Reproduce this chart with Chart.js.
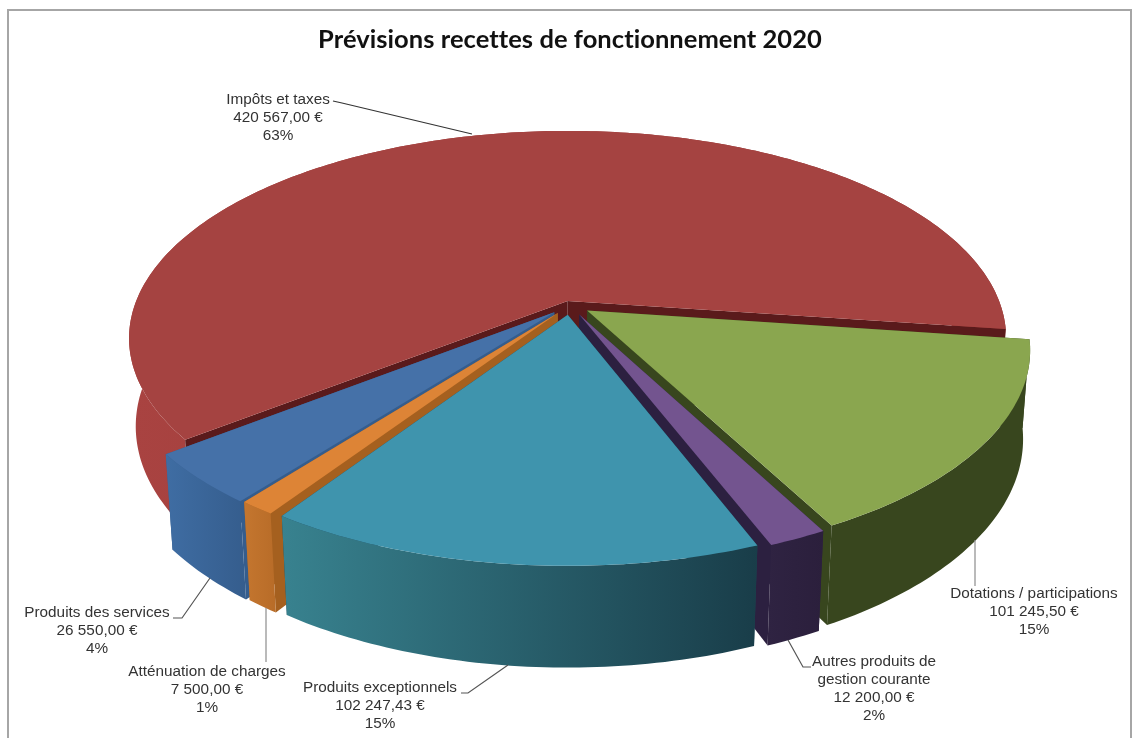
<!DOCTYPE html>
<html lang="fr">
<head>
<meta charset="utf-8">
<title>Prévisions recettes de fonctionnement 2020</title>
<script src="https://cdn.jsdelivr.net/npm/chart.js@4/dist/chart.umd.js"></script>
<style>
  html, body { margin: 0; padding: 0; background: #ffffff; overflow: hidden; }
  canvas { display: block; }
</style>
</head>
<body>
<canvas id="recettesChart" width="1133" height="738"></canvas>
<script>
// Budget lines, clockwise from the big slice
const categories = ['Impôts et taxes', 'Dotations / participations', 'Autres produits de\ngestion courante',
  'Produits exceptionnels', 'Atténuation de charges', 'Produits des services'];
const amounts = [420567.00, 101245.50, 12200.00, 102247.43, 7500.00, 26550.00];

// Slice colours: top face, cut faces, outer wall (left to right)
const topColors = ['#a54341', '#8aa64f', '#73548f', '#3f94ad', '#dd8436', '#4571a8'];
const cutColors = ['#5a1a1b', '#38461e', '#2c2040', '#1d4452', '#a5601f', '#355d8d'];
const wallColors = [['#a94341', '#8e3432'], ['#38461e', '#38461e'], ['#2f2342', '#2b1f3c'],
  ['#38828f', '#193d49'], ['#c4762f', '#b86c28'], ['#3f6da3', '#355d8d']];

// Explosion of each slice, in chart pixels
const sliceOffsets = [7, 16, 17, 16, 16, 17];

// Painter's order, back slices first
const drawOrder = [0, 1, 5, 4, 2, 3];

// Text anchors and leader lines for the data labels
const labelBoxes = [
  { x: 278, y: 100, line: [[333, 101], [342, 103], [472, 134]], stroke: '#333333' },
  { x: 1034, y: 594, line: [[975, 540], [975, 586]], stroke: '#8c8c8c' },
  { x: 874, y: 662, line: [[788, 640], [803, 667], [811, 667]], stroke: '#555555' },
  { x: 380, y: 688, line: [[461, 693], [468, 693], [508, 665]], stroke: '#555555' },
  { x: 207, y: 672, line: [[266, 608], [266, 662]], stroke: '#8c8c8c' },
  { x: 97, y: 613, line: [[173, 618], [182, 618], [210, 578]], stroke: '#555555' }
];

const pieTop = 305;      // vertical position of the pie centre
const spreadX = 433;     // half width of the disc
const spreadY = 202;     // half height of the disc
const tilt = 0.18;       // how much the front of the disc grows
const thickness = 88;    // height of the wall at the front
const thicknessFade = 0.015;

function formatEuro(v) {
  const parts = v.toFixed(2).split('.');
  return parts[0].replace(/\B(?=(\d{3})+$)/g, ' ') + ',' + parts[1] + ' €';
}

// Project a point of the unit disc (h = 0 top face, h = 1 bottom face)
function project(cx, u, v, h) {
  const w = 1 - tilt * v + thicknessFade * h;
  return { x: cx + spreadX * u / w, y: pieTop + (spreadY * v + thickness * h) / w };
}

function traceRim(ctx, pts, moveFirst) {
  pts.forEach((p, i) => {
    if (i === 0 && moveFirst) ctx.moveTo(p.x, p.y);
    else ctx.lineTo(p.x, p.y);
  });
}

function drawSlice(ctx, arc, i) {
  const mid = (arc.startAngle + arc.endAngle) / 2;
  const shift = arc.options.offset / arc.outerRadius;
  const ox = Math.cos(mid) * shift;
  const oy = Math.sin(mid) * shift;
  const rimAt = (h) => {
    const pts = [];
    const steps = Math.max(4, Math.ceil((arc.endAngle - arc.startAngle) * 60));
    for (let s = 0; s <= steps; s++) {
      const t = arc.startAngle + (arc.endAngle - arc.startAngle) * s / steps;
      pts.push(project(arc.x, Math.cos(t) + ox, Math.sin(t) + oy, h));
    }
    return pts;
  };
  const top = rimAt(0);
  const bottom = rimAt(1);
  const apexTop = project(arc.x, ox, oy, 0);
  const apexBottom = project(arc.x, ox, oy, 1);

  const drawCuts = () => {
    ctx.fillStyle = cutColors[i];
    [[top[0], bottom[0]], [top[top.length - 1], bottom[bottom.length - 1]]].forEach(([a, b]) => {
      ctx.beginPath();
      ctx.moveTo(apexTop.x, apexTop.y);
      ctx.lineTo(a.x, a.y);
      ctx.lineTo(b.x, b.y);
      ctx.lineTo(apexBottom.x, apexBottom.y);
      ctx.closePath();
      ctx.fill();
    });
  };

  const drawWall = () => {
    const xs = top.concat(bottom).map((p) => p.x);
    const grad = ctx.createLinearGradient(Math.min(...xs), 0, Math.max(...xs), 0);
    grad.addColorStop(0, wallColors[i][0]);
    grad.addColorStop(1, wallColors[i][1]);
    ctx.fillStyle = grad;
    ctx.beginPath();
    traceRim(ctx, top, true);
    traceRim(ctx, bottom.slice().reverse(), false);
    ctx.closePath();
    ctx.fill();
  };

  // a slice wider than a half turn shows both cuts in front of its wall,
  // on the narrow ones the wall has to hide the cut turned away
  if (arc.endAngle - arc.startAngle > Math.PI) {
    drawWall();
    drawCuts();
  } else {
    drawCuts();
    drawWall();
  }

  // top face
  ctx.fillStyle = arc.options.backgroundColor;
  ctx.beginPath();
  ctx.moveTo(apexTop.x, apexTop.y);
  traceRim(ctx, top, false);
  ctx.closePath();
  ctx.fill();
}

// Draws the arcs of the pie as a thick tilted disc
const tiltedPie = {
  id: 'tiltedPie',
  beforeDatasetDraw(chart, args) {
    const arcs = chart.getDatasetMeta(args.index).data;
    drawOrder.forEach((i) => drawSlice(chart.ctx, arcs[i], i));
    return false;
  }
};

const frameAndLabels = {
  id: 'frameAndLabels',
  beforeDraw(chart) {
    const ctx = chart.ctx;
    ctx.save();
    ctx.strokeStyle = '#a6a6a6';
    ctx.lineWidth = 2;
    ctx.strokeRect(8, 10, 1123, 800);
    ctx.restore();
    // small spacing keeps the title free of ligatures
    ctx.letterSpacing = '0.05px';
  },
  afterDraw(chart) {
    const ctx = chart.ctx;
    const total = amounts.reduce((a, b) => a + b, 0);
    ctx.save();
    ctx.letterSpacing = '0px';
    ctx.font = '15.3px "Liberation Sans", Arial, sans-serif';
    ctx.textAlign = 'center';
    ctx.textBaseline = 'middle';
    labelBoxes.forEach((box, i) => {
      ctx.strokeStyle = box.stroke;
      ctx.lineWidth = 1.2;
      ctx.beginPath();
      box.line.forEach(([x, y], k) => (k ? ctx.lineTo(x, y) : ctx.moveTo(x, y)));
      ctx.stroke();

      const lines = categories[i].split('\n');
      lines.push(formatEuro(amounts[i]));
      lines.push(Math.round(amounts[i] / total * 100) + '%');
      ctx.fillStyle = '#333333';
      lines.forEach((text, k) => ctx.fillText(text, box.x, box.y + k * 17.8));
    });
    ctx.restore();
  }
};

new Chart(document.getElementById('recettesChart').getContext('2d'), {
  type: 'pie',
  data: {
    labels: categories,
    datasets: [{
      data: amounts,
      backgroundColor: topColors,
      offset: sliceOffsets,
      borderWidth: 0
    }]
  },
  options: {
    responsive: false,
    animation: false,
    rotation: 232,
    layout: { padding: { left: 7 } },
    plugins: {
      legend: { display: false },
      tooltip: { enabled: false },
      title: {
        display: true,
        text: 'Prévisions recettes de fonctionnement 2020',
        color: '#111111',
        padding: { top: 24, bottom: 0 },
        font: { family: 'Lato, "Open Sans", sans-serif', size: 25.5, weight: 'bold' }
      }
    }
  },
  plugins: [tiltedPie, frameAndLabels]
});
</script>
</body>
</html>
